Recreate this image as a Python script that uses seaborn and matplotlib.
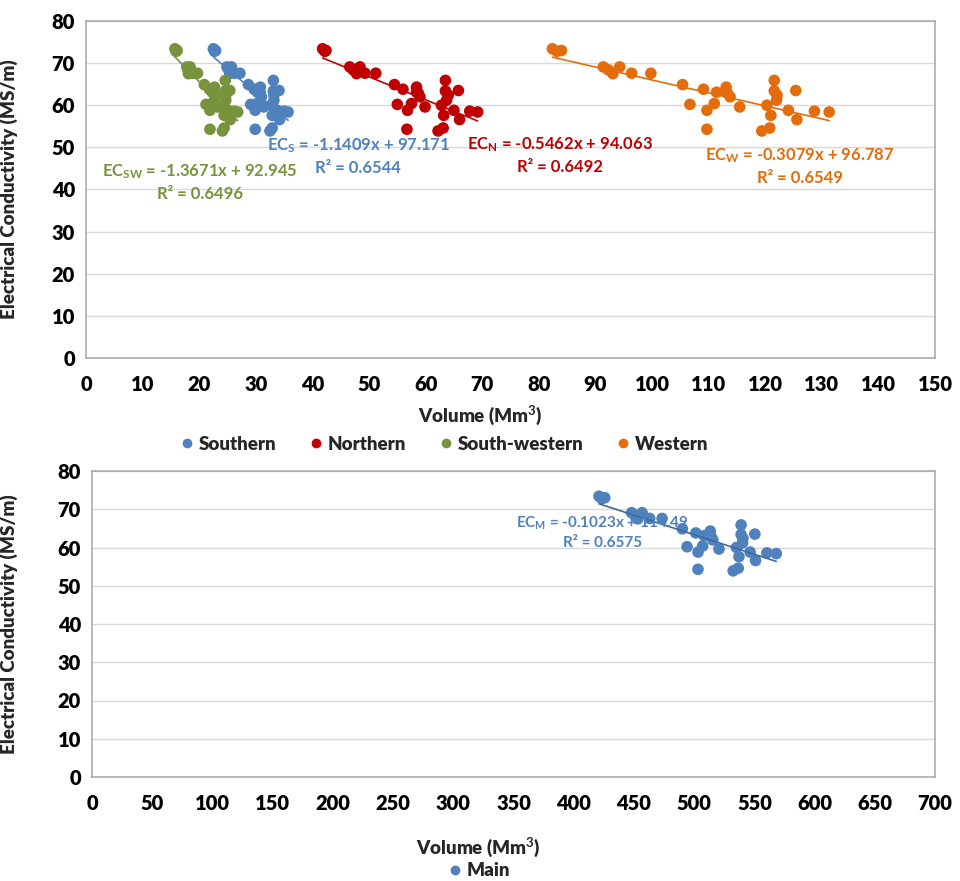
import numpy as np
import pandas as pd
import matplotlib
matplotlib.use("Agg")
import matplotlib.pyplot as plt
import seaborn as sns
from matplotlib.lines import Line2D

# Electrical conductivity (MS/m) shared by all reservoirs, one value per survey
ec = [73.4, 72.8, 73.0, 69.1, 68.4, 67.5, 69.1, 67.6, 67.6, 64.9, 60.2, 63.8,
      58.8, 54.3, 60.4, 63.1, 64.3, 62.9, 62.0, 59.6, 53.9, 60.0, 54.6, 57.6,
      65.9, 63.4, 61.2, 62.4, 58.8, 63.5, 56.6, 58.6, 58.4]

# Volumes (Mm3) per region
vol_southern = [22.5, 22.7, 22.9, 24.9, 25.2, 25.4, 25.7, 26.3, 27.2, 28.7, 29.1, 29.7,
                29.9, 29.9, 30.2, 30.3, 30.8, 30.8, 31.0, 31.4, 32.5, 32.7, 32.9, 32.9,
                33.1, 33.1, 33.2, 33.2, 33.8, 34.1, 34.2, 35.0, 35.7]
vol_northern = [41.8, 42.2, 42.4, 46.6, 47.2, 47.8, 48.4, 49.3, 51.2, 54.5, 55.0, 56.0,
                56.8, 56.7, 57.5, 58.4, 58.4, 58.7, 59.0, 59.9, 62.2, 62.8, 63.1, 63.2,
                63.5, 63.5, 63.7, 64.0, 65.0, 65.8, 66.0, 67.8, 69.2]
vol_southwestern = [15.7, 15.9, 16.1, 17.8, 18.0, 18.1, 18.4, 18.9, 19.7, 20.9, 21.2, 21.8,
                    21.9, 21.9, 22.2, 22.3, 22.7, 22.7, 22.8, 23.2, 24.1, 24.3, 24.4, 24.4,
                    24.6, 24.6, 24.7, 24.7, 25.1, 25.4, 25.5, 26.2, 26.8]
vol_western = [82.4, 83.2, 84.0, 91.4, 92.3, 93.1, 94.3, 96.4, 99.8, 105.4, 106.7, 109.1,
               109.7, 109.7, 111.0, 111.4, 113.1, 113.3, 113.8, 115.5, 119.4, 120.3, 120.8, 121.0,
               121.6, 121.6, 122.0, 122.1, 124.1, 125.4, 125.6, 128.7, 131.3]
vol_main = [421.0, 423.4, 425.8, 448.1, 450.8, 453.2, 456.8, 463.1, 473.4, 490.2, 494.1, 501.4,
            503.2, 503.2, 507.1, 508.3, 513.4, 514.0, 515.5, 520.6, 532.4, 535.1, 536.6, 537.2,
            539.0, 539.0, 540.2, 540.5, 546.5, 550.4, 551.0, 560.4, 568.2]

regions = ["Southern", "Northern", "South-western", "Western"]
subscripts = ["S", "N", "SW", "W"]
slopes = [-1.1409, -0.5462, -1.3671, -0.3079]
intercepts = [97.171, 94.063, 92.945, 96.787]
r_squared = [0.6544, 0.6492, 0.6496, 0.6549]

main_slope, main_intercept, main_r2 = -0.1023, 114.49, 0.6575

colors = ["#4F81BD", "#C00000", "#77933C", "#E46C0A"]
main_color = "#4F81BD"
# label anchor (x, y) in data units for each equation box
label_pos = [(48.1, 47.9), (83.7, 48.1), (20.1, 41.7), (126.1, 45.5)]
main_label_pos = (424, 64)

sns.set_theme(style="white")
plt.rcParams["font.family"] = ["Lato", "DejaVu Sans"]
plt.rcParams["font.weight"] = "bold"
plt.rcParams["mathtext.fontset"] = "custom"
plt.rcParams["mathtext.rm"] = "Lato:bold"
plt.rcParams["mathtext.bf"] = "Lato:bold"
plt.rcParams["mathtext.it"] = "Lato:bold"

vols = [vol_southern, vol_northern, vol_southwestern, vol_western]
df = pd.concat(
    [pd.DataFrame({"Volume": v, "EC": ec, "Region": r}) for v, r in zip(vols, regions)],
    ignore_index=True,
)
df_main = pd.DataFrame({"Volume": vol_main, "EC": ec, "Region": "Main"})

fig = plt.figure(figsize=(9.6, 8.81), dpi=100)
ax1 = fig.add_axes([86 / 960, 1 - 358 / 881, (935 - 86) / 960, (358 - 21) / 881])
ax2 = fig.add_axes([92 / 960, 1 - 777 / 881, (935 - 92) / 960, (777 - 471) / 881])

grid_c = "#d9d9d9"
frame_c = "#a6a6a6"


def style_axes(ax, xmax, xstep):
    ax.set_ylim(0, 80)
    ax.set_xlim(0, xmax)
    ax.set_yticks(np.arange(0, 81, 10))
    ax.set_xticks(np.arange(0, xmax + 1, xstep))
    ax.yaxis.grid(True, color=grid_c, linewidth=1)
    ax.xaxis.grid(False)
    ax.set_axisbelow(True)
    for s in ax.spines.values():
        s.set_color(frame_c)
        s.set_linewidth(1.1)
    ax.tick_params(axis="both", labelsize=14.5, length=0, pad=8, colors="black")
    ax.tick_params(axis="x", pad=12)
    for lab in ax.get_xticklabels() + ax.get_yticklabels():
        lab.set_fontweight("heavy")
    ax.set_ylabel("Electrical Conductivity (MS/m)", fontsize=13.5, fontweight="heavy")
    ax.set_xlabel("Volume (Mm$^3$)", fontsize=13.5, fontweight="heavy")


sns.scatterplot(data=df, x="Volume", y="EC", hue="Region", hue_order=regions,
                palette=colors, s=70, edgecolor="none", ax=ax1, legend=False, zorder=3)
for v, sl, ic, c in zip(vols, slopes, intercepts, colors):
    xs = np.array([min(v), max(v)])
    ax1.plot(xs, sl * xs + ic, color=c, linewidth=1.2, zorder=4)
for (x, y), sub, sl, ic, r2, c in zip(label_pos, subscripts, slopes, intercepts, r_squared, colors):
    ax1.text(x, y, f"EC$_{{{sub}}}$ = {sl:.4f}x + {ic:.3f}\nR² = {r2:.4f}",
             ha="center", va="center", multialignment="center",
             color=c, fontsize=12, fontweight="bold", linespacing=1.35, zorder=5)
style_axes(ax1, 150, 10)
ax1.yaxis.set_label_coords(-0.080, 0.5)
ax1.xaxis.set_label_coords(0.465, -0.135)

sns.scatterplot(data=df_main, x="Volume", y="EC", color=main_color, s=70,
                edgecolor="none", ax=ax2, legend=False, zorder=3)
xs = np.array([min(vol_main), max(vol_main)])
ax2.plot(xs, main_slope * xs + main_intercept, color="#3d6a9e", linewidth=1.2, zorder=4)
ax2.text(main_label_pos[0], main_label_pos[1],
         f"EC$_{{M}}$ = {main_slope:.4f}x + {main_intercept:.2f}\nR² = {main_r2:.4f}",
         ha="center", va="center", multialignment="center",
         color=main_color, fontsize=11, fontweight="bold", linespacing=1.35, zorder=5)
style_axes(ax2, 700, 50)
ax2.yaxis.set_label_coords(-0.088, 0.5)
ax2.xaxis.set_label_coords(0.458, -0.19)

# legends
handles = [Line2D([], [], marker="o", linestyle="none", color=c, markersize=6) for c in colors]
fig.legend(handles, regions, loc="center", bbox_to_anchor=(443 / 960, 1 - 444 / 881),
           ncol=4, frameon=False, prop={"size": 13.5, "weight": "heavy"},
           handletextpad=0.15, columnspacing=1.6, handlelength=1.0)
fig.legend([Line2D([], [], marker="o", linestyle="none", color=main_color, markersize=6)],
           ["Main"], loc="center", bbox_to_anchor=(478 / 960, 1 - 871 / 881),
           frameon=False, prop={"size": 13.5, "weight": "heavy"},
           handletextpad=0.15, handlelength=1.0, borderpad=0.1)

fig.savefig("out.png", dpi=100)
